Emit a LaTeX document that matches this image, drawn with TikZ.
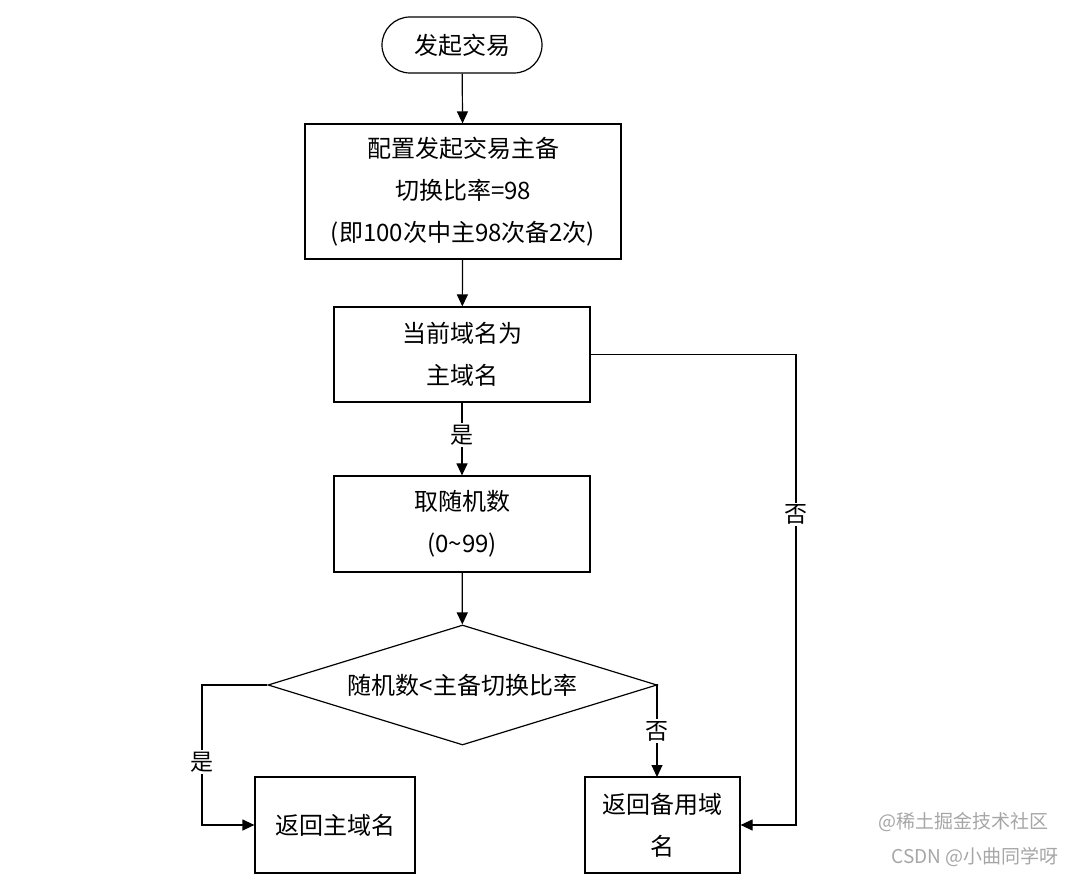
\documentclass[tikz,border=0pt]{standalone}
\usepackage{fontspec}
\setmainfont{Noto Sans CJK SC}
\usetikzlibrary{shapes.geometric,arrows.meta}
\begin{document}
\begin{tikzpicture}[x=1pt,y=-1pt,
  box/.style={draw,line width=1.2pt,minimum width=#1,align=center,inner sep=0pt,font=\fontsize{24}{42}\selectfont},
  arr/.style={line width=1.2pt,-{Triangle[length=12pt,width=11pt]}},
  lab/.style={fill=white,inner sep=2pt,font=\fontsize{23}{26}\selectfont}]
\useasboundingbox (0,0) rectangle (1074,882);
\node[box=160pt,minimum height=56pt,rounded corners=28pt] (s) at (462,45) {发起交易};
\node[box=316pt,minimum height=135pt] (b1) at (463,191.5) {配置发起交易主备\\切换比率=98\\(即100次中主98次备2次)};
\node[box=256pt,minimum height=95pt] (b2) at (462,354.5) {当前域名为\\主域名};
\node[box=256pt,minimum height=96pt] (b3) at (462,524) {取随机数\\(0\textasciitilde 99)};
\node[draw,line width=1.2pt,diamond,aspect=3.24,minimum width=389pt,minimum height=120pt,inner sep=0pt,font=\fontsize{24}{28}\selectfont] (d) at (462.5,685) {随机数<主备切换比率};
\node[box=160pt,minimum height=96pt] (l) at (335,825) {返回主域名};
\node[box=155pt,minimum height=96pt] (r) at (662.5,825) {返回备用域\\名};
\draw[arr] (s) -- (b1);
\draw[arr] (b1) -- (b2);
\draw[arr] (b2) -- node[lab,pos=0.45]{是} (b3);
\draw[arr] (b3) -- (d);
\draw[arr] (d.west) -- (202,685) -- node[lab,pos=0.55]{是} (202,825) -- (l.west);
\draw[arr] (d.east) -- (657,685) -- node[lab,pos=0.5]{否} (657,777);
\draw[arr] (b2.east) -- (796,354.5) -- node[lab,pos=0.34]{否} (796,825) -- (r.east);
\node[text=gray!70,font=\fontsize{19}{21}\selectfont,anchor=east] (w1) at (1052,822) {@稀土掘金技术社区};
\node[text=gray!70,font=\fontsize{19}{21}\selectfont,anchor=east] (w2) at (1062,857) {CSDN @小曲同学呀};
\end{tikzpicture}
\end{document}
